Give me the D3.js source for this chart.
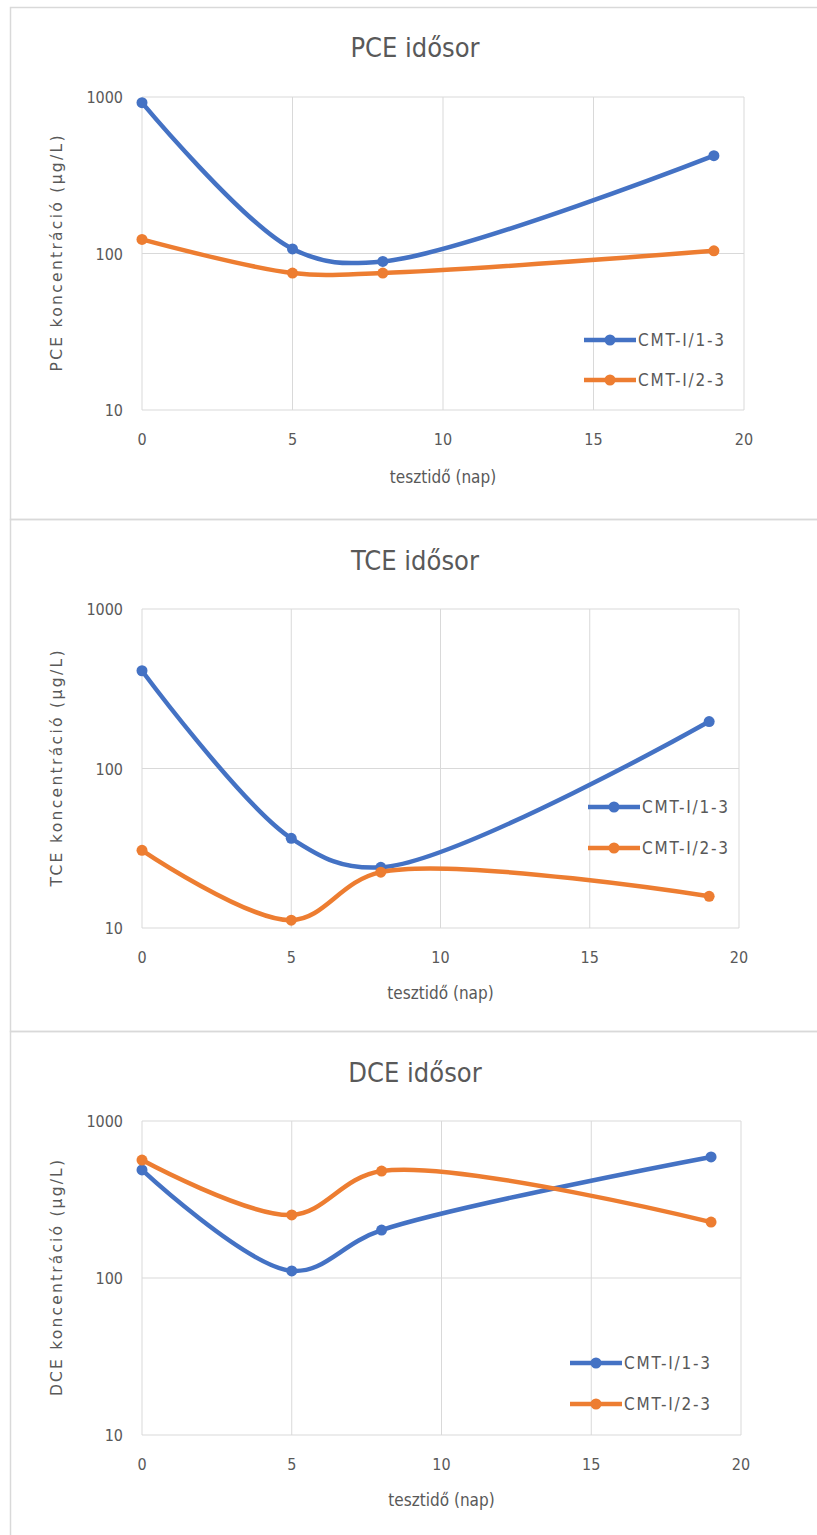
<!DOCTYPE html>
<html>
<head>
<meta charset="utf-8">
<script src="https://cdn.jsdelivr.net/npm/d3@7"></script>
<style>
  body { margin: 0; background: #fff; }
  svg { display: block; }
  .narrow { font-family: "Liberation Sans Narrow", "DejaVu Sans Condensed", "Open Sans", sans-serif; fill: #595959; }
  .wide { font-family: "DejaVu Sans", Verdana, sans-serif; fill: #595959; }
</style>
</head>
<body>
<svg id="chart" width="817" height="1535"></svg>
<script>
// --- data ---
const days = [0, 5, 8, 19];
const seriesNames = ["CMT-I/1-3", "CMT-I/2-3"];
const seriesColors = ["#4472C4", "#ED7D31"];

const pceTitle = "PCE idősor";
const pce1 = [920, 107, 89, 422];
const pce2 = [123, 75, 75, 104];

const tceTitle = "TCE idősor";
const tce1 = [410, 36.5, 24, 197];
const tce2 = [30.7, 11.2, 22.4, 15.8];

const dceTitle = "DCE idősor";
const dce1 = [488, 111, 202, 590];
const dce2 = [564, 252, 480, 227];

const xTicks = [0, 5, 10, 15, 20];
const yTicks = [10, 100, 1000];
const xTitle = "tesztidő (nap)";

// --- layout per panel (pixels) ---
const panels = [
  { title: pceTitle, yLabel: "PCE koncentráció (µg/L)", series: [pce1, pce2],
    box: [7, 519], plot: { left: 142, right: 744, top: 97, bottom: 410 },
    titleY: 57, tickY: 445, xTitleY: 483, legend: { x: 584, y: [340, 380] } },
  { title: tceTitle, yLabel: "TCE koncentráció (µg/L)", series: [tce1, tce2],
    box: [519, 1031], plot: { left: 142, right: 739, top: 609, bottom: 928 },
    titleY: 570, tickY: 963, xTitleY: 999, legend: { x: 588, y: [807, 848] } },
  { title: dceTitle, yLabel: "DCE koncentráció (µg/L)", series: [dce1, dce2],
    box: [1031, 1545], plot: { left: 142, right: 741, top: 1121, bottom: 1435 },
    titleY: 1082, tickY: 1470, xTitleY: 1506, legend: { x: 570, y: [1363, 1404] } },
];

const svg = d3.select("#chart");
const grid = "#d9d9d9";

panels.forEach(p => {
  const g = svg.append("g");

  // chart area border
  g.append("rect")
    .attr("x", 10.5).attr("y", p.box[0] + 0.5)
    .attr("width", 830).attr("height", p.box[1] - p.box[0])
    .attr("fill", "none").attr("stroke", grid).attr("stroke-width", 1.5);

  const x = d3.scaleLinear().domain([0, 20]).range([p.plot.left, p.plot.right]);
  const y = d3.scaleLog().domain([10, 1000]).range([p.plot.bottom, p.plot.top]);

  // gridlines
  g.append("g").selectAll("line").data(xTicks).join("line")
    .attr("x1", d => x(d)).attr("x2", d => x(d))
    .attr("y1", p.plot.top).attr("y2", p.plot.bottom)
    .attr("stroke", grid).attr("stroke-width", 1);
  g.append("g").selectAll("line").data(yTicks).join("line")
    .attr("x1", p.plot.left).attr("x2", p.plot.right)
    .attr("y1", d => y(d)).attr("y2", d => y(d))
    .attr("stroke", grid).attr("stroke-width", 1);

  // tick labels
  g.append("g").selectAll("text").data(xTicks).join("text")
    .attr("class", "narrow").attr("font-size", 16)
    .attr("x", d => x(d)).attr("y", p.tickY)
    .attr("text-anchor", "middle").text(d => d);
  g.append("g").selectAll("text").data(yTicks).join("text")
    .attr("class", "narrow").attr("font-size", 16)
    .attr("x", p.plot.left - 19).attr("y", d => y(d) + 6)
    .attr("text-anchor", "end").text(d => d);

  // titles
  g.append("text").attr("class", "narrow").attr("font-size", 27)
    .attr("x", 415).attr("y", p.titleY).attr("text-anchor", "middle").text(p.title);
  g.append("text").attr("class", "narrow").attr("font-size", 17)
    .attr("x", (p.plot.left + p.plot.right) / 2).attr("y", p.xTitleY)
    .attr("text-anchor", "middle").text(xTitle);
  const cy = (p.plot.top + p.plot.bottom) / 2;
  g.append("text").attr("class", "wide").attr("font-size", 15.5)
    .attr("transform", `translate(62,${cy}) rotate(-90)`)
    .attr("text-anchor", "middle")
    .attr("textLength", 236).attr("lengthAdjust", "spacing")
    .text(p.yLabel);

  // series
  const line = d3.line()
    .x((d, i) => x(days[i])).y(d => y(d))
    .curve(d3.curveCatmullRom.alpha(0.5));

  p.series.forEach((vals, si) => {
    g.append("path").datum(vals)
      .attr("d", line).attr("fill", "none")
      .attr("stroke", seriesColors[si]).attr("stroke-width", 4.5)
      .attr("stroke-linejoin", "round").attr("stroke-linecap", "round");
    g.append("g").selectAll("circle").data(vals).join("circle")
      .attr("cx", (d, i) => x(days[i])).attr("cy", d => y(d))
      .attr("r", 5.5).attr("fill", seriesColors[si]);
  });

  // legend
  seriesNames.forEach((name, si) => {
    const ly = p.legend.y[si];
    g.append("line")
      .attr("x1", p.legend.x).attr("x2", p.legend.x + 52)
      .attr("y1", ly).attr("y2", ly)
      .attr("stroke", seriesColors[si]).attr("stroke-width", 4.5);
    g.append("circle").attr("cx", p.legend.x + 26).attr("cy", ly)
      .attr("r", 5.5).attr("fill", seriesColors[si]);
    g.append("text").attr("class", "narrow").attr("font-size", 17)
      .attr("x", p.legend.x + 54).attr("y", ly + 6)
      .attr("textLength", 86).attr("lengthAdjust", "spacing")
      .text(name);
  });
});
</script>
</body>
</html>
